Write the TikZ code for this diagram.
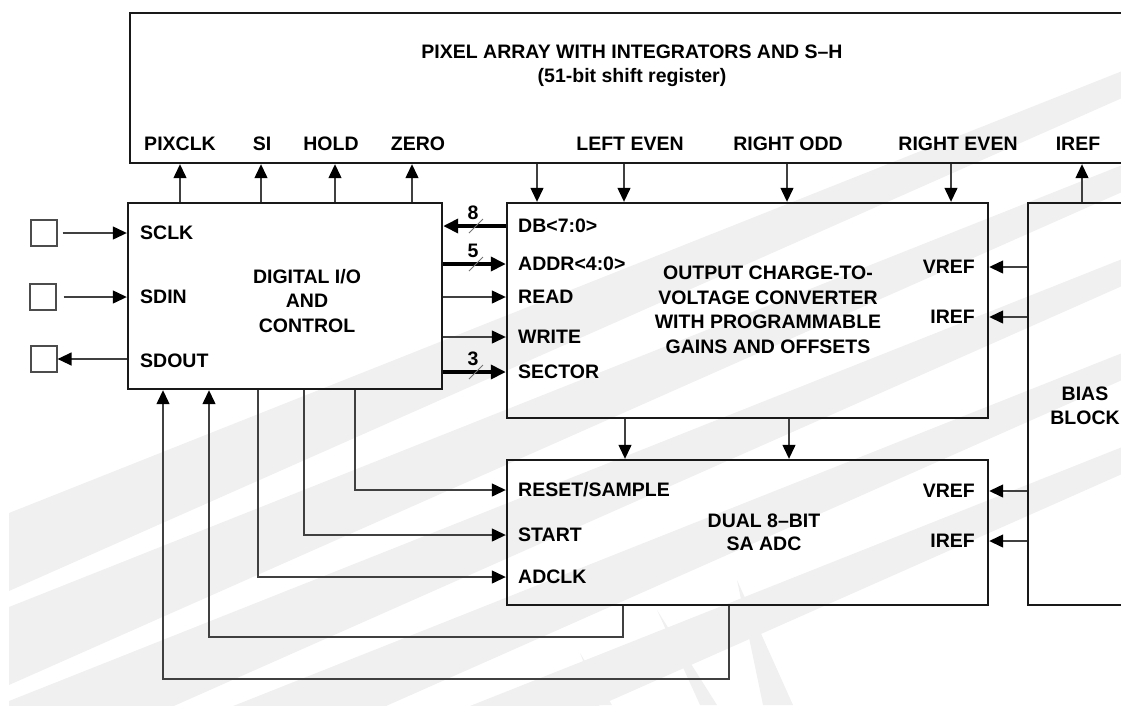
\documentclass[tikz,border=0pt]{standalone}
\usepackage{fontspec}
\setmainfont{Liberation Sans}
\usetikzlibrary{arrows.meta}

\begin{document}
\begin{tikzpicture}[x=1pt, y=-1pt,
  blk/.style={rectangle, draw=black!90, line width=2.4pt, inner sep=0pt},
  txt/.style={align=center, font=\fontsize{19.5}{24.5}\selectfont\bfseries, inner sep=0pt},
  sig/.style={font=\fontsize{19.5}{24}\selectfont\bfseries, inner sep=0pt},
  pad/.style={rectangle, draw=black!70, line width=1.2pt, minimum size=26pt, inner sep=0pt},
  arr/.style={-{Triangle[length=14pt, width=13pt, color=black]}, line width=1.3pt, draw=black!75},
  bus/.style={-{Triangle[length=15pt, width=14pt, color=black]}, line width=3.6pt, draw=black},
  wire/.style={line width=1.3pt, draw=black!75},
  busmark/.style={line width=0.8pt, draw=black!55},
  wm/.style={fill=black!6, draw=none}
]

\useasboundingbox (0,0) rectangle (1121,705);
\clip (0,0) rectangle (1121,705);

% watermark stripes
\fill[wm] (9,513) -- (1121,71.5) -- (1121,98.5) -- (9,591) -- cycle;
\fill[wm] (9,607) -- (1121,165.5) -- (1121,192.5) -- (9,685) -- cycle;
\fill[wm] (9,701) -- (1121,259.5) -- (1121,286.5) -- (9,779) -- cycle;
\fill[wm] (9,795) -- (1121,353.5) -- (1121,380.5) -- (9,873) -- cycle;
\fill[wm] (9,889) -- (1121,447.5) -- (1121,474.5) -- (9,967) -- cycle;
\fill[wm] (737,580) -- (793,705) -- (763,705) -- cycle;
\fill[wm] (657,610) -- (717,705) -- (700,705) -- cycle;
\fill[wm] (580,653) -- (612,705) -- (600,705) -- cycle;

% blocks
\node[blk, minimum width=1012pt, minimum height=150pt] (pix) at (636,88) {};
\node[txt, font=\fontsize{19.5}{24}\selectfont\bfseries] (pixtxt) at (632,66)
  {PIXEL ARRAY WITH INTEGRATORS AND S–H\\(51-bit shift register)};

\node[blk, minimum width=314pt, minimum height=186pt] (dig) at (285,296) {};
\node[txt] (digtxt) at (307,301) {DIGITAL I/O\\AND\\CONTROL};

\node[blk, minimum width=481pt, minimum height=215pt] (conv) at (747.5,310.5) {};
\node[txt] (convtxt) at (768,310) {OUTPUT CHARGE-TO-\\VOLTAGE CONVERTER\\WITH PROGRAMMABLE\\GAINS AND OFFSETS};

\node[blk, minimum width=481pt, minimum height=145pt] (adc) at (747.5,532.5) {};
\node[txt, font=\fontsize{19.5}{23}\selectfont\bfseries] (adctxt) at (764,532) {DUAL 8–BIT\\SA ADC};

\node[blk, minimum width=114pt, minimum height=402pt] (bias) at (1085,404) {};
\node[txt] (biastxt) at (1085,406) {BIAS\\BLOCK};

% pixel array pins
\node[sig] (pixclk)    at (180,144)  {PIXCLK};
\node[sig] (si)        at (262,144)  {SI};
\node[sig] (hold)      at (331,144)  {HOLD};
\node[sig] (zero)      at (418,144)  {ZERO};
\node[sig] (lefteven)  at (630,144)  {LEFT EVEN};
\node[sig] (rightodd)  at (788,144)  {RIGHT ODD};
\node[sig] (righteven) at (958,144)  {RIGHT EVEN};
\node[sig] (irefpix)   at (1078,144) {IREF};

% digital pins
\node[sig, anchor=west] (sclk)  at (140,233) {SCLK};
\node[sig, anchor=west] (sdin)  at (140,297) {SDIN};
\node[sig, anchor=west] (sdout) at (140,361) {SDOUT};

% converter pins
\node[sig, anchor=west] (db)     at (518,226) {DB<7:0>};
\node[sig, anchor=west] (addr)   at (518,264) {ADDR<4:0>};
\node[sig, anchor=west] (read)   at (518,297) {READ};
\node[sig, anchor=west] (write)  at (518,337) {WRITE};
\node[sig, anchor=west] (sector) at (518,372) {SECTOR};
\node[sig, anchor=east] (vrefc)  at (975,267) {VREF};
\node[sig, anchor=east] (irefc)  at (975,317) {IREF};

% adc pins
\node[sig, anchor=west] (rst)   at (518,490) {RESET/SAMPLE};
\node[sig, anchor=west] (start) at (518,535) {START};
\node[sig, anchor=west] (adclk) at (518,577) {ADCLK};
\node[sig, anchor=east] (vrefa) at (975,491) {VREF};
\node[sig, anchor=east] (irefa) at (975,541) {IREF};

% pads
\node[pad] (sclkpad)  at (44,233) {};
\node[pad] (sdinpad)  at (43,297) {};
\node[pad] (sdoutpad) at (44,359) {};

\draw[arr] ([xshift=5pt]sclkpad.east) -- (dig.west |- sclkpad);
\draw[arr] ([xshift=7pt]sdinpad.east) -- (dig.west |- sdinpad);
\draw[arr] (dig.west |- sdoutpad) -- (sdoutpad.east);

% column positions
\coordinate (xpixclk)    at (180,0);
\coordinate (xsi)        at (261,0);
\coordinate (xhold)      at (335,0);
\coordinate (xzero)      at (412,0);
\coordinate (xleftodd)   at (537,0);
\coordinate (xlefteven)  at (624,0);
\coordinate (xrightodd)  at (787,0);
\coordinate (xrighteven) at (951,0);
\coordinate (xiref)      at (1082,0);

\draw[arr] (dig.north -| xpixclk) -- (pix.south -| xpixclk);
\draw[arr] (dig.north -| xsi)     -- (pix.south -| xsi);
\draw[arr] (dig.north -| xhold)   -- (pix.south -| xhold);
\draw[arr] (dig.north -| xzero)   -- (pix.south -| xzero);

\draw[arr] (pix.south -| xleftodd)   -- (conv.north -| xleftodd);
\draw[arr] (pix.south -| xlefteven)  -- (conv.north -| xlefteven);
\draw[arr] (pix.south -| xrightodd)  -- (conv.north -| xrightodd);
\draw[arr] (pix.south -| xrighteven) -- (conv.north -| xrighteven);
\draw[arr] (bias.north -| xiref)     -- (pix.south -| xiref);

% digital <-> converter
\draw[bus] (conv.west |- db) -- (dig.east |- db);
\draw[bus] (dig.east |- addr) -- (conv.west |- addr);
\draw[arr] (dig.east |- read) -- (conv.west |- read);
\draw[arr] (dig.east |- write) -- (conv.west |- write);
\draw[bus] (dig.east |- sector) -- (conv.west |- sector);

\node[sig] (w8) at (473,213) {8};
\node[sig] (w5) at (473,251) {5};
\node[sig] (w3) at (473,359) {3};
\draw[busmark] ([shift={(-4,20)}]w8.center) -- ([shift={(10,6)}]w8.center);
\draw[busmark] ([shift={(-4,20)}]w5.center) -- ([shift={(10,6)}]w5.center);
\draw[busmark] ([shift={(-4,20)}]w3.center) -- ([shift={(10,6)}]w3.center);

% bias references
\draw[arr] (bias.west |- vrefc) -- (conv.east |- vrefc);
\draw[arr] (bias.west |- irefc) -- (conv.east |- irefc);
\draw[arr] (bias.west |- vrefa) -- (adc.east |- vrefa);
\draw[arr] (bias.west |- irefa) -- (adc.east |- irefa);

% converter -> adc
\coordinate (xadc1) at (625,0);
\coordinate (xadc2) at (789,0);
\draw[arr] (conv.south -| xadc1) -- (adc.north -| xadc1);
\draw[arr] (conv.south -| xadc2) -- (adc.north -| xadc2);

% control lines to adc and loops back
\coordinate (xrst)   at (355,0);
\coordinate (xstart) at (304,0);
\coordinate (xadclk) at (258,0);
\coordinate (xloopa) at (209,0);
\coordinate (xloopb) at (163,0);
\coordinate (xadca)  at (623,0);
\coordinate (xadcb)  at (729,0);
\coordinate (yloopa) at (0,637);
\coordinate (yloopb) at (0,679);

\draw[arr] (dig.south -| xrst)   |- (adc.west |- rst);
\draw[arr] (dig.south -| xstart) |- (adc.west |- start);
\draw[arr] (dig.south -| xadclk) |- (adc.west |- adclk);
\draw[arr] (adc.south -| xadca) |- (xloopa |- yloopa) -- (dig.south -| xloopa);
\draw[arr] (adc.south -| xadcb) |- (xloopb |- yloopb) -- (dig.south -| xloopb);

\end{tikzpicture}
\end{document}
